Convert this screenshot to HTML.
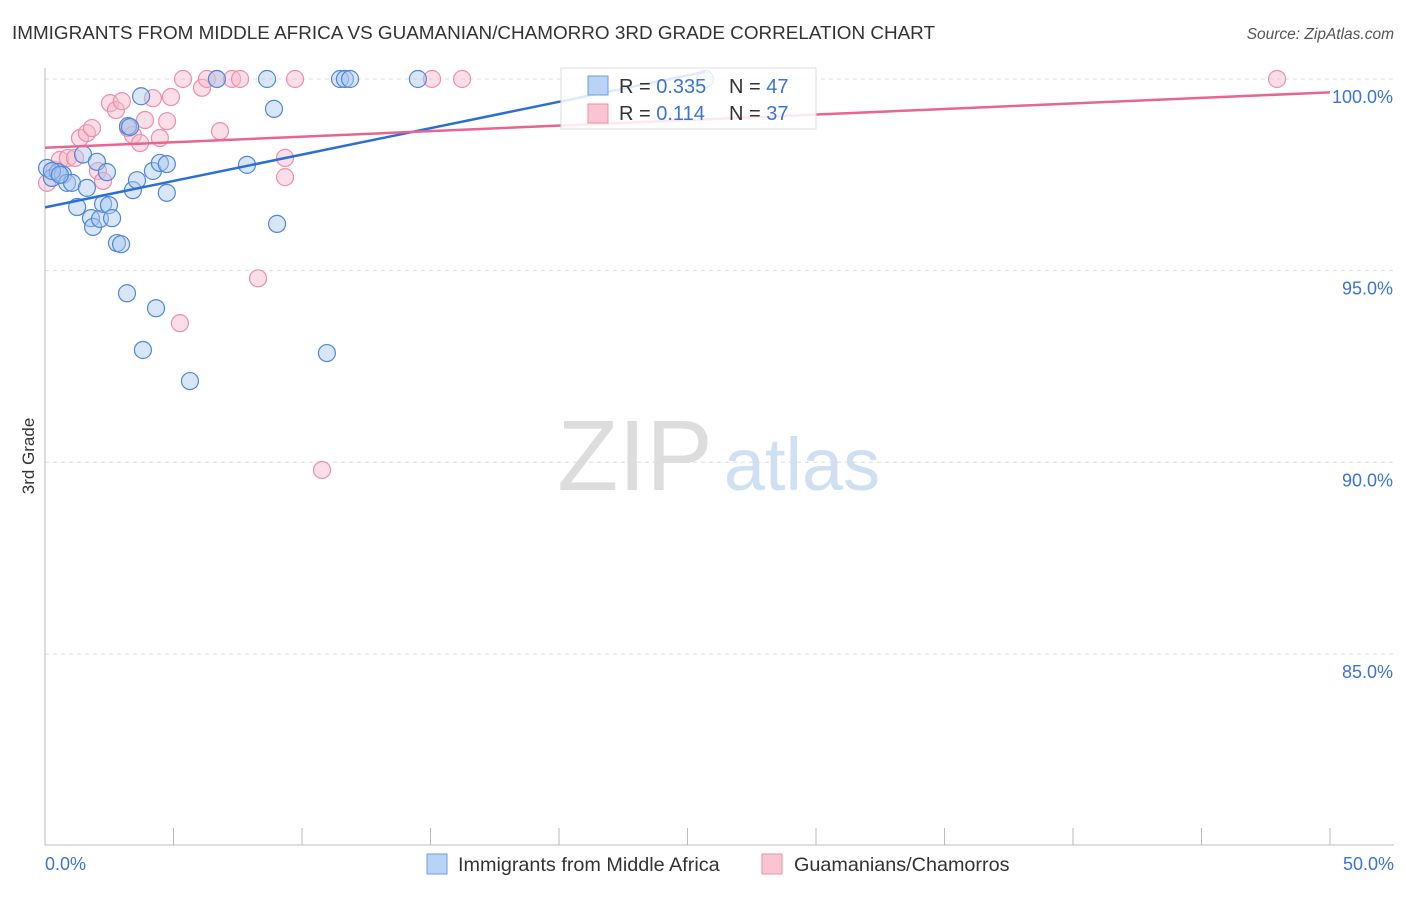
<!DOCTYPE html>
<html><head><meta charset="utf-8"><style>
body{margin:0;background:#fff;font-family:"Liberation Sans",sans-serif;}
svg text{font-family:"Liberation Sans",sans-serif;}
</style></head><body>
<svg id="c" width="1406" height="892" xmlns="http://www.w3.org/2000/svg">
<text x="12" y="39" font-size="18.3" fill="#333" textLength="923" lengthAdjust="spacingAndGlyphs">IMMIGRANTS FROM MIDDLE AFRICA VS GUAMANIAN/CHAMORRO 3RD GRADE CORRELATION CHART</text>
<text x="1394" y="39" font-size="15.5" fill="#555" text-anchor="end" font-style="italic">Source: ZipAtlas.com</text>
<text x="34" y="456" font-size="17" fill="#333" transform="rotate(-90 34 456)" text-anchor="middle">3rd Grade</text>
<g><text x="635" y="490" font-size="100" fill="#ddd" font-family="Liberation Serif" text-anchor="middle">ZIP</text><text x="802" y="490" font-size="74" fill="#cfe0f3" text-anchor="middle">atlas</text></g>
<g id="grid"></g><g id="axes"></g><g id="pts"></g><g id="trend"></g>
<g>
<rect x="561" y="68" width="255" height="61" fill="#fff" fill-opacity="0.85" stroke="#ddd"/>
<rect x="588" y="76" width="20" height="19" fill="#b8d3f3" stroke="#6a9ee0"/>
<rect x="588" y="104" width="20" height="19" fill="#f9c5d3" stroke="#ec8fab"/>
<text x="619" y="93" font-size="20" fill="#333">R = <tspan fill="#3a74d4">0.335</tspan></text>
<text x="729" y="93" font-size="20" fill="#333">N = <tspan fill="#3a74d4">47</tspan></text>
<text x="619" y="120" font-size="20" fill="#333">R = <tspan fill="#3a74d4"> 0.114</tspan></text>
<text x="729" y="120" font-size="20" fill="#333">N = <tspan fill="#3a74d4">37</tspan></text>
</g>
<g>
<rect x="427" y="854" width="20" height="20" fill="#b8d3f3" stroke="#6a9ee0"/>
<text x="458" y="871" font-size="19.8" fill="#333">Immigrants from Middle Africa</text>
<rect x="762" y="854" width="20" height="20" fill="#f9c5d3" stroke="#ec8fab"/>
<text x="794" y="871" font-size="19.8" fill="#333">Guamanians/Chamorros</text>
</g>
</svg>
<script>
const yTicks=[100,95,90,85];
const yTickLabels=["100.0%","95.0%","90.0%","85.0%"];
const xLabels=["0.0%","50.0%"];
const blueX=[0.08,0.27,0.5,0.7,0.86,1.05,1.25,1.48,1.63,1.79,1.87,2.02,2.14,2.26,2.41,2.49,2.61,2.8,2.96,3.19,3.23,3.31,3.42,3.58,3.74,3.81,4.2,4.32,4.47,4.74,4.74,5.64,6.69,7.86,8.64,8.91,9.03,10.97,11.48,11.67,11.87,14.51,25.68,0.27,0.58];
const blueY=[97.68,97.42,97.57,97.5,97.29,97.29,96.66,98.03,97.16,96.37,96.14,97.84,96.35,96.74,97.57,96.71,96.37,95.72,95.69,94.41,98.77,98.75,97.1,97.36,99.55,92.93,97.6,94.02,97.81,97.78,97.03,92.12,100,97.76,100,99.22,96.22,92.85,100,100,100,100,100,97.6,97.5];
const pinkX=[0.08,0.39,0.58,0.89,1.17,1.36,1.63,1.83,2.06,2.26,2.53,2.76,2.99,3.23,3.42,3.7,3.89,4.2,4.47,4.75,4.9,5.25,5.37,6.11,6.3,6.69,6.81,7.28,7.59,8.29,9.34,9.34,9.73,10.78,15.06,16.23,47.94];
const pinkY=[97.29,97.63,97.89,97.94,97.94,98.46,98.59,98.72,97.6,97.34,99.37,99.19,99.42,98.72,98.54,98.33,98.93,99.5,98.46,98.9,99.53,93.63,100,99.77,100,100,98.64,100,100,94.8,97.94,97.44,100,89.8,100,100,100];
const xMin=0,xMax=50,yMin=80,yMax=100;
const X=v=>45+(v-xMin)/(xMax-xMin)*1285;
const Y=v=>79+(yMax-v)/(yMax-yMin)*766.6;
const NS="http://www.w3.org/2000/svg";
function mk(p,t,a){const e=document.createElementNS(NS,t);for(const k in a)e.setAttribute(k,a[k]);document.getElementById(p).appendChild(e);return e;}
yTicks.forEach((t,i)=>{
 const l=mk('grid','line',{x1:45,x2:1394,y1:Y(t),y2:Y(t),stroke:'#ddd','stroke-dasharray':'4,4'});
 
 
 const tx=mk('grid','text',{x:1393,y:Y(t)+24,'font-size':18,fill:'#3a74d4','text-anchor':'end'});
 tx.textContent=yTickLabels[i];
 
 
});
const ax=mk('axes','line',{x1:45,x2:45,y1:68,y2:845,stroke:'#bbb'});


const bx=mk('axes','line',{x1:45,x2:1394,y1:845,y2:845,stroke:'#bbb'});


for(let i=0;i<=10;i++){const t=mk('axes','line',{x1:X(i*5),x2:X(i*5),y1:828,y2:845,stroke:'#bbb'});
 
 }
[[0,'start',45],[50,'end',1394]].forEach((d,i)=>{const t=mk('axes','text',{x:d[2],y:870,'font-size':18,fill:'#3a74d4','text-anchor':d[1]});t.textContent=xLabels[i];
 
 });
function pts(xs,ys,f,s,name){xs.forEach((x,i)=>{const c=mk('pts','circle',{cx:X(x),cy:Y(ys[i]),r:8.5,fill:f,'fill-opacity':0.45,stroke:s,'stroke-width':1.2});
 
 });}
pts(pinkX,pinkY,'#f7b6c9','#ec8fab','guamanian-point');
pts(blueX,blueY,'#a9c8f0','#4f88d8','middle-africa-point');
function fit(xs,ys){const n=xs.length,mx=xs.reduce((a,b)=>a+b)/n,my=ys.reduce((a,b)=>a+b)/n;let sxy=0,sxx=0;xs.forEach((x,i)=>{sxy+=(x-mx)*(ys[i]-my);sxx+=(x-mx)**2;});const b=sxy/sxx;return [my-b*mx,b];}
const bf=fit(blueX,blueY),pf=fit(pinkX,pinkY);
const bl=mk('trend','line',{x1:X(0),y1:Y(bf[0]),x2:X(25.7),y2:Y(bf[0]+bf[1]*25.7),stroke:'#2a6fd6','stroke-width':2.5});


const pl=mk('trend','line',{x1:X(0),y1:Y(pf[0]),x2:X(50),y2:Y(pf[0]+pf[1]*50),stroke:'#e8658f','stroke-width':2.5});


</script>
</body></html>
